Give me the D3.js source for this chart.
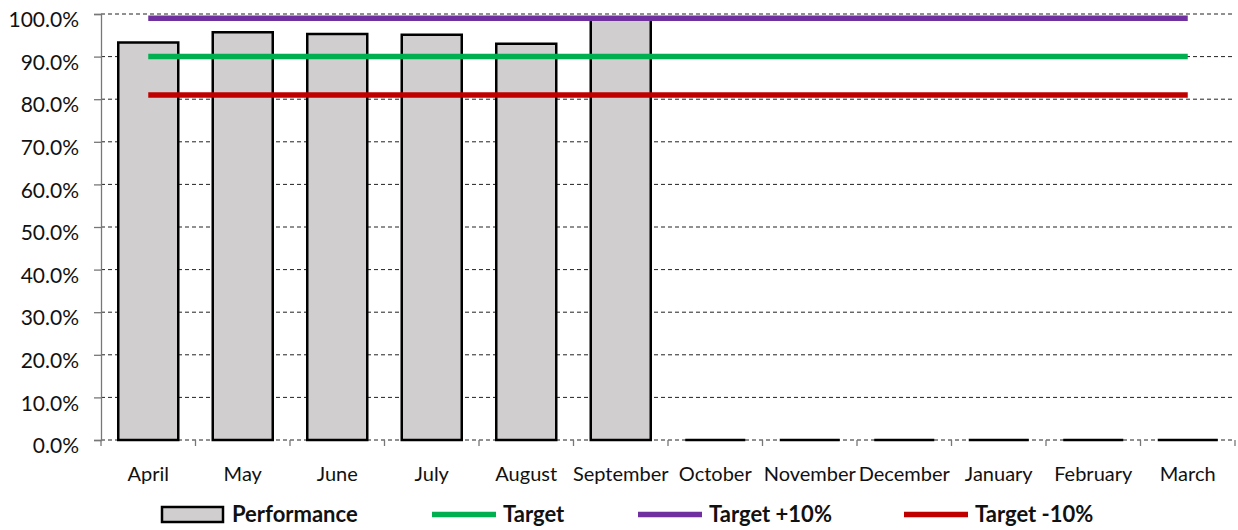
<!DOCTYPE html>
<html>
<head>
<meta charset="utf-8">
<script src="https://cdn.jsdelivr.net/npm/d3@7/dist/d3.min.js"></script>
<style>
  html, body { margin: 0; padding: 0; background: #fff; }
  svg { display: block; font-family: Lato, "Open Sans", sans-serif; }
</style>
</head>
<body>
<svg id="chart" width="1238" height="530"></svg>
<script>
// Monthly performance against target bands
const months = ["April", "May", "June", "July", "August", "September",
                "October", "November", "December", "January", "February", "March"];
const performance = [0.933, 0.957, 0.953, 0.951, 0.930, 0.99, 0, 0, 0, 0, 0, 0];
const target = [0.90, 0.90, 0.90, 0.90, 0.90, 0.90, 0.90, 0.90, 0.90, 0.90, 0.90, 0.90];
const targetPlus = [0.99, 0.99, 0.99, 0.99, 0.99, 0.99, 0.99, 0.99, 0.99, 0.99, 0.99, 0.99];
const targetMinus = [0.81, 0.81, 0.81, 0.81, 0.81, 0.81, 0.81, 0.81, 0.81, 0.81, 0.81, 0.81];
const yTicks = [0, 0.1, 0.2, 0.3, 0.4, 0.5, 0.6, 0.7, 0.8, 0.9, 1.0];

const svg = d3.select("#chart");
const plotLeft = 101, plotRight = 1235, plotTop = 14, plotBottom = 440;

const x = d3.scaleBand().domain(months).range([plotLeft, plotRight])
  .paddingInner(0.365).paddingOuter(0.1825);
const y = d3.scaleLinear().domain([0, 1]).range([plotBottom, plotTop]);
const fmt = d3.format(".1%");

// Dashed horizontal gridlines
svg.append("g").selectAll("line").data(yTicks).join("line")
  .attr("x1", plotLeft).attr("x2", plotRight)
  .attr("y1", d => y(d)).attr("y2", d => y(d))
  .attr("stroke", "#222").attr("stroke-width", 1)
  .attr("stroke-dasharray", "4,3");

// Y axis
const yAxis = svg.append("g").attr("transform", `translate(${plotLeft},0)`)
  .call(d3.axisLeft(y).tickValues(yTicks).tickFormat(fmt).tickSize(7).tickPadding(15));
yAxis.select(".domain").attr("stroke", "#777").attr("stroke-width", 1.3);
yAxis.selectAll(".tick line").attr("stroke", "#777").attr("stroke-width", 1.3);
yAxis.selectAll(".tick text").attr("font-size", 21).attr("fill", "#111")
  .attr("font-family", "Lato, sans-serif").attr("dy", "0.6em");

// X axis (ticks between categories)
const step = x.step();
const boundaries = d3.range(months.length + 1).map(i => plotLeft + i * step);
svg.append("g").selectAll("line").data(boundaries).join("line")
  .attr("x1", d => d).attr("x2", d => d)
  .attr("y1", plotBottom).attr("y2", plotBottom + 6)
  .attr("stroke", "#777").attr("stroke-width", 1.3);

svg.append("g").selectAll("text").data(months).join("text")
  .attr("x", d => x(d) + x.bandwidth() / 2)
  .attr("y", 481)
  .attr("text-anchor", "middle")
  .attr("font-size", 20).attr("fill", "#111")
  .text(d => d);

// Performance bars
svg.append("g").selectAll("path").data(months).join("path")
  .attr("d", (d, i) => {
    const x0 = x(d), x1 = x(d) + x.bandwidth();
    const y0 = y(0), y1 = y(performance[i]);
    return `M${x0},${y0}V${y1}H${x1}V${y0}Z`;
  })
  .attr("fill", "#d0cece").attr("stroke", "#000").attr("stroke-width", 2.5);

// Target lines
const lineGen = d3.line()
  .x(d => x(d.m) + x.bandwidth() / 2)
  .y(d => y(d.v));
const seriesLines = [
  { name: "Target", values: target, color: "#00b050" },
  { name: "Target +10%", values: targetPlus, color: "#7030a0" },
  { name: "Target -10%", values: targetMinus, color: "#c00000" }
];
svg.append("g").selectAll("path").data(seriesLines).join("path")
  .attr("d", s => lineGen(s.values.map((v, i) => ({ m: months[i], v }))))
  .attr("fill", "none").attr("stroke", s => s.color).attr("stroke-width", 5.5);

// Legend
const legend = svg.append("g").attr("font-weight", "bold").attr("font-size", 22);
legend.append("rect").attr("x", 162).attr("y", 507).attr("width", 61).attr("height", 15)
  .attr("fill", "#d0cece").attr("stroke", "#000").attr("stroke-width", 2.5);
legend.append("text").attr("x", 232).attr("y", 522).attr("fill", "#111").text("Performance");

const legendLines = [
  { s: seriesLines[0], x0: 432, x1: 496, tx: 503 },
  { s: seriesLines[1], x0: 638, x1: 702, tx: 709 },
  { s: seriesLines[2], x0: 904, x1: 968, tx: 975 }
];
legendLines.forEach(l => {
  legend.append("line").attr("x1", l.x0).attr("x2", l.x1).attr("y1", 514.5).attr("y2", 514.5)
    .attr("stroke", l.s.color).attr("stroke-width", 5.5);
  legend.append("text").attr("x", l.tx).attr("y", 522).attr("fill", "#111").text(l.s.name);
});
</script>
</body>
</html>
